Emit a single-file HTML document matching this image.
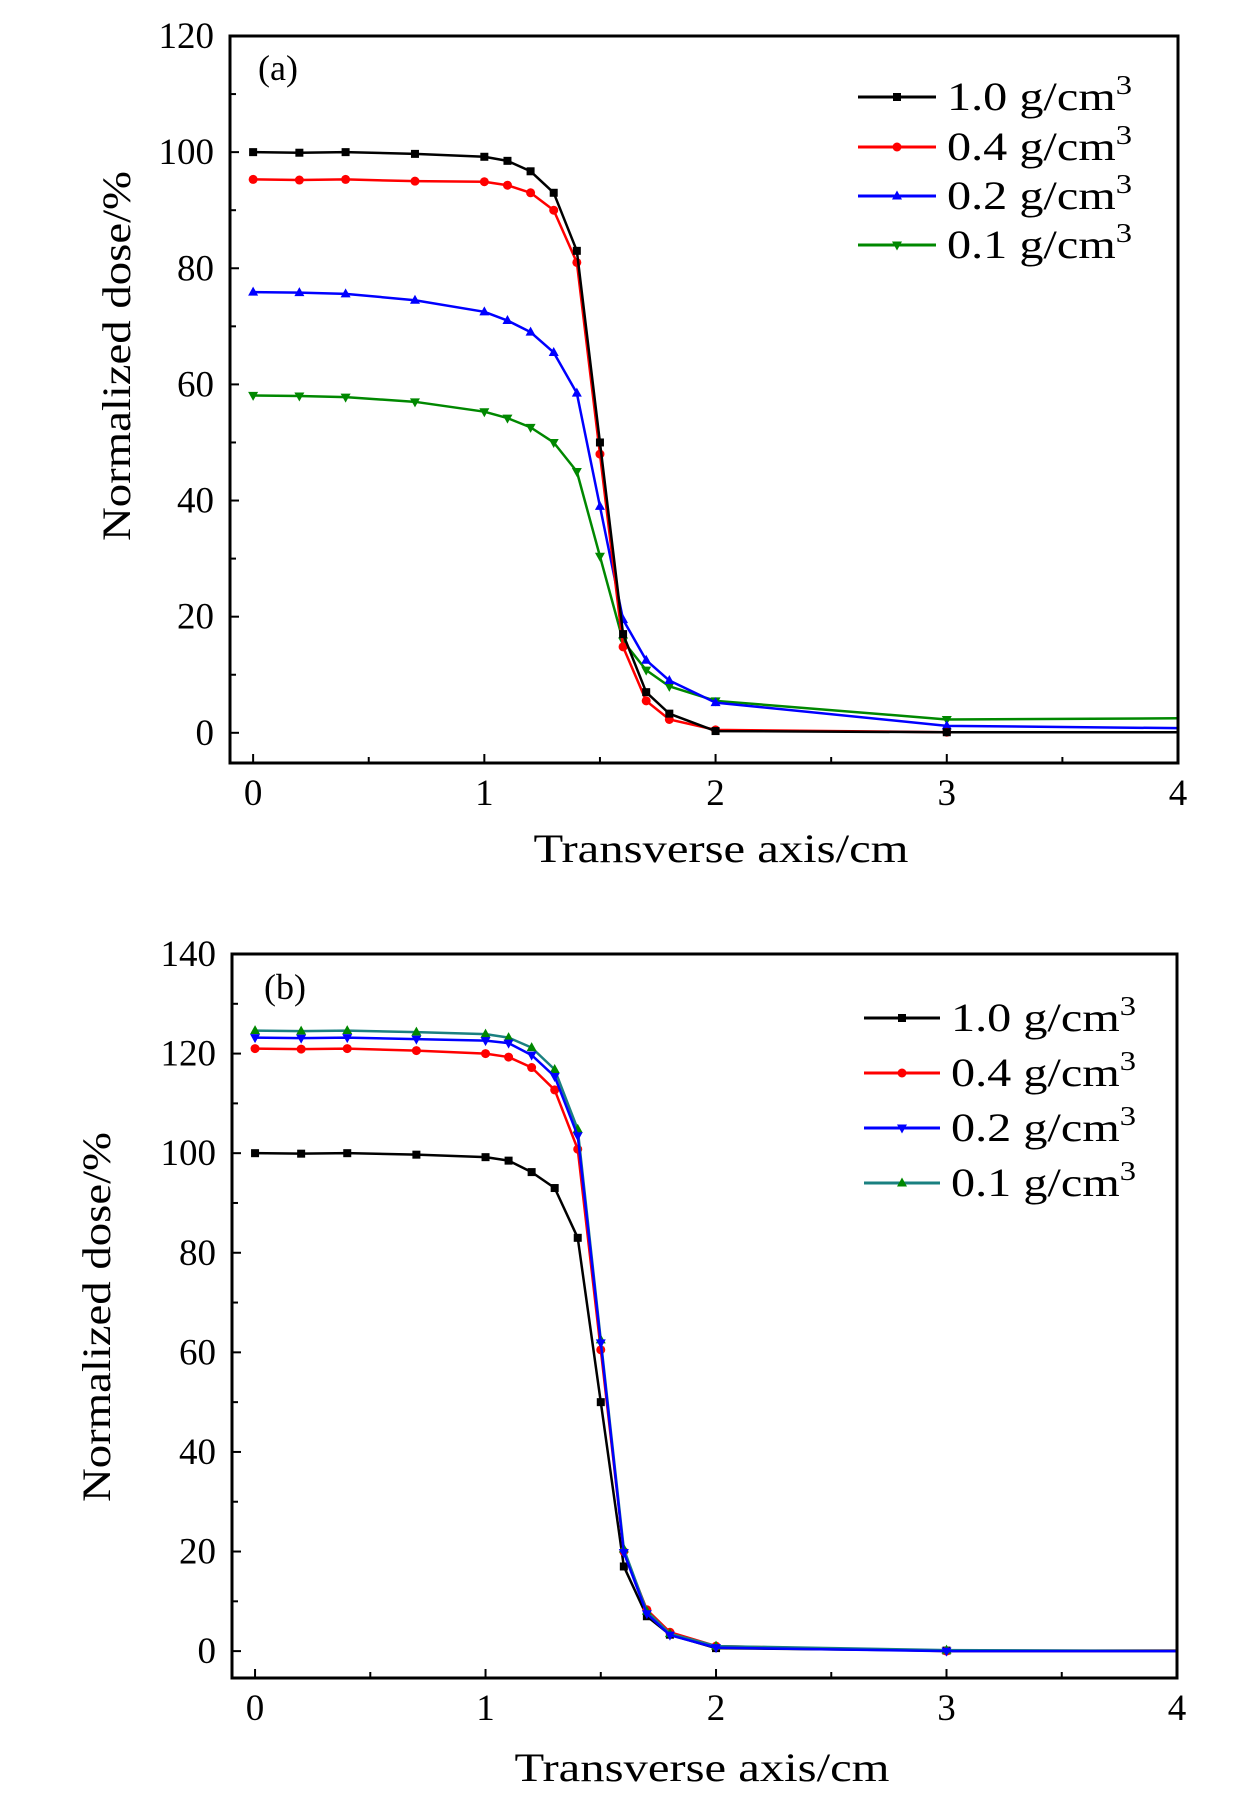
<!DOCTYPE html>
<html><head><meta charset="utf-8"><style>
html,body{margin:0;padding:0;background:#fff;}
svg{display:block;font-family:"Liberation Serif",serif;}
</style></head><body>
<svg id="chart" width="1260" height="1803" viewBox="0 0 1260 1803" xmlns="http://www.w3.org/2000/svg"></svg>
<script>
const xValues = [0,0.2,0.4,0.7,1.0,1.1,1.2,1.3,1.4,1.5,1.6,1.7,1.8,2,3,4];
const seriesLabels = ["1.0 g/cm","0.4 g/cm","0.2 g/cm","0.1 g/cm"];
const a_rho10 = [100,99.9,100,99.7,99.2,98.5,96.7,93,83,50,17,7,3.3,0.3,0.1,0.1];
const a_rho04 = [95.3,95.2,95.3,95,94.9,94.3,93,90,81,48,14.8,5.5,2.3,0.5,0.1,0.1];
const a_rho02 = [75.9,75.8,75.6,74.5,72.5,71,69,65.5,58.5,39,19.5,12.5,9,5.2,1.2,0.8];
const a_rho01 = [58.1,58,57.8,57,55.3,54.2,52.6,50,45,30.4,15.8,10.8,8,5.5,2.3,2.5];
const b_rho10 = [100,99.9,100,99.7,99.2,98.5,96.2,93,83,50,17,7,3.3,0.6,0.1,0.1];
const b_rho04 = [121,120.9,121,120.6,120,119.3,117.2,112.7,100.8,60.5,20,8.3,3.8,1,0,0];
const b_rho02 = [123.2,123.1,123.2,122.9,122.6,122.1,119.7,115.4,103.5,61.9,19.8,7.5,3.2,0.7,0,0];
const b_rho01 = [124.6,124.5,124.6,124.3,123.9,123.2,121.2,116.8,104.8,62.5,20.5,8,3.5,1,0.2,0];
const xTicks = [0,1,2,3,4];
const aYTicks = [0,20,40,60,80,100,120];
const bYTicks = [0,20,40,60,80,100,120,140];

const NS="http://www.w3.org/2000/svg";
const svg=document.getElementById('chart');
function mk(tag,attrs,parent){const e=document.createElementNS(NS,tag);for(const k in attrs)e.setAttribute(k,attrs[k]);(parent||svg).appendChild(e);return e;}

function marker(g,shape,cx,cy,color){
  let m;
  if(shape==='sq') m=mk('rect',{x:cx-4,y:cy-4,width:8,height:8,fill:color},g);
  else if(shape==='ci') m=mk('circle',{cx:cx,cy:cy,r:4.5,fill:color},g);
  else if(shape==='up') m=mk('polygon',{points:`${cx},${cy-5.5} ${cx+5},${cy+3.5} ${cx-5},${cy+3.5}`,fill:color},g);
  else m=mk('polygon',{points:`${cx},${cy+5.5} ${cx+5},${cy-3.5} ${cx-5},${cy-3.5}`,fill:color},g);
  return m;
}

function panel(cfg){
  const g=mk('g',{});
  
  
  const {L,R,T,B,ymin,ymax}=cfg;
  const xmin=-0.1,xmax=4;
  const sx=v=>L+(v-xmin)/(xmax-xmin)*(R-L);
  const sy=v=>B-(v-ymin)/(ymax-ymin)*(B-T);
  for(let v=0;v<=4.001;v+=0.5){
    const major=Math.abs(v-Math.round(v))<1e-6;
    const t=mk('line',{x1:sx(v),x2:sx(v),y1:B,y2:B-(major?9:6),stroke:'#000','stroke-width':2},g);
    
    
  }
  for(let v=0;v<=ymax;v+=10){
    const major=v%20===0;
    const t=mk('line',{x1:L,x2:L+(major?9:6),y1:sy(v),y2:sy(v),stroke:'#000','stroke-width':2},g);
    
    
  }
  xTicks.forEach(v=>{
    const t=mk('text',{x:sx(v),y:B+42,'font-size':37,'text-anchor':'middle'},g);
    t.textContent=v;
    
    
  });
  cfg.yTicks.forEach(v=>{
    const t=mk('text',{x:L-16,y:sy(v)+12,'font-size':37,'text-anchor':'end'},g);
    t.textContent=v;
    
    
  });
  cfg.series.forEach(s=>{
    const sg=mk('g',{},g);
    
    
    const pts=xValues.map((x,i)=>sx(x)+','+sy(s.data[i])).join(' ');
    const pl=mk('polyline',{points:pts,fill:'none',stroke:s.line,'stroke-width':2.5,'stroke-linejoin':'round'},sg);
    
    
    xValues.forEach((x,i)=>{
      if(x>=4) return;
      const m=marker(sg,s.shape,sx(x),sy(s.data[i]),s.color);
      
      
    });
  });
  const fr=mk('rect',{x:L,y:T,width:R-L,height:B-T,fill:'none',stroke:'#000','stroke-width':3},g);
  
  
  cfg.legendOrder.forEach((s,i)=>{
    const lg=mk('g',{},g);
    
    
    const y=cfg.legY[i];
    mk('line',{x1:cfg.legX1,x2:cfg.legX2,y1:y,y2:y,stroke:s.line,'stroke-width':3},lg);
    marker(lg,s.shape,(cfg.legX1+cfg.legX2)/2,y,s.color);
    const t=mk('text',{x:cfg.legX2+11,y:y+13,'font-size':40,textLength:185,lengthAdjust:'spacingAndGlyphs'},lg);
    t.textContent=seriesLabels[i];
    const sup=mk('tspan',{dy:-16,'font-size':27},t);
    sup.textContent='3';
  });
  const lab=mk('text',{x:cfg.labX,y:cfg.labY,'font-size':36},g);
  lab.textContent=cfg.label;
  
  
  const xt=mk('text',{x:cfg.xtX,y:cfg.xtY,'font-size':40,'text-anchor':'middle',textLength:375,lengthAdjust:'spacingAndGlyphs'},g);
  xt.textContent='Transverse axis/cm';
  
  
  const yt=mk('text',{x:0,y:0,'font-size':40,'text-anchor':'middle',textLength:370,lengthAdjust:'spacingAndGlyphs',transform:`translate(${cfg.ytX},${cfg.ytY}) rotate(-90)`},g);
  yt.textContent='Normalized dose/%';
  
  
}

const sA=[
 {key:'1-0',data:a_rho10,color:'#000',line:'#000',shape:'sq'},
 {key:'0-4',data:a_rho04,color:'#f00',line:'#f00',shape:'ci'},
 {key:'0-2',data:a_rho02,color:'#00f',line:'#00f',shape:'up'},
 {key:'0-1',data:a_rho01,color:'#080',line:'#080',shape:'dn'}];
panel({name:'panel-a',L:230,R:1178,T:36,B:763,ymin:-5.2,ymax:120,yTicks:aYTicks,
  series:[sA[3],sA[2],sA[1],sA[0]],legendOrder:sA,legX1:858,legX2:936,legY:[97,147,196,245],
  label:'(a)',labX:258,labY:80,xtX:721,xtY:862,ytX:130,ytY:356});

const sB=[
 {key:'1-0',data:b_rho10,color:'#000',line:'#000',shape:'sq'},
 {key:'0-4',data:b_rho04,color:'#f00',line:'#f00',shape:'ci'},
 {key:'0-2',data:b_rho02,color:'#00f',line:'#00f',shape:'dn'},
 {key:'0-1',data:b_rho01,color:'#080',line:'#1a8080',shape:'up'}];
panel({name:'panel-b',L:232,R:1177,T:954,B:1678,ymin:-5.4,ymax:140,yTicks:bYTicks,
  series:[sB[0],sB[1],sB[3],sB[2]],legendOrder:sB,legX1:864,legX2:940,legY:[1018,1073,1128,1183],
  label:'(b)',labX:264,labY:999,xtX:702,xtY:1781,ytX:110,ytY:1317});
</script>
</body></html>
